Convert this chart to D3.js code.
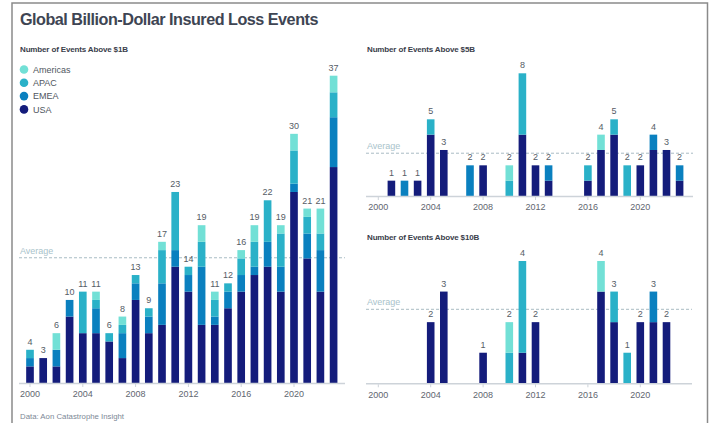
<!DOCTYPE html>
<html>
<head>
<meta charset="utf-8">
<script src="https://cdn.jsdelivr.net/npm/d3@7"></script>
<style>
  html, body { margin: 0; padding: 0; background: #fff; }
  svg { display: block; }
</style>
</head>
<body>
<div id="chart"></div>
<script>
// Years shown on every panel
const years = d3.range(2000, 2024);
const tickYears = [2000, 2004, 2008, 2012, 2016, 2020];
const regions = ['USA', 'EMEA', 'APAC', 'Americas'];
const legendOrder = ['Americas', 'APAC', 'EMEA', 'USA'];

// Events above $1B
const usa1  = [2,3,2,8,6,6,5,3,10,6,7,14,11,7,7,9,11,13,14,11,23,15,11,26];
const emea1 = [1,0,2,2,0,3,0,3,2,2,5,2,2,7,1,2,2,1,3,3,1,3,5,6];
const apac1 = [1,0,0,0,5,1,1,1,1,1,4,7,1,3,2,1,2,3,5,4,4,2,2,3];
const amer1 = [0,0,2,0,0,1,0,1,0,0,1,0,0,2,1,0,1,2,0,1,2,1,3,2];
const avg1 = 15.08;

// Events above $5B
const usa5  = [0,1,0,1,4,3,0,0,2,0,0,4,2,1,0,0,1,3,4,0,2,3,3,1];
const emea5 = [0,0,1,0,0,0,0,2,0,0,0,0,0,1,0,0,0,0,0,0,0,1,0,1];
const apac5 = [0,0,0,0,1,0,0,0,0,0,1,4,0,0,0,0,1,0,1,2,0,0,0,0];
const amer5 = [0,0,0,0,0,0,0,0,0,0,1,0,0,0,0,0,0,1,0,0,0,0,0,0];
const avg5 = 2.79;

// Events above $10B
const usa10  = [0,0,0,0,2,3,0,0,1,0,0,1,2,0,0,0,0,3,2,0,2,2,2,0];
const emea10 = [0,0,0,0,0,0,0,0,0,0,0,0,0,0,0,0,0,0,0,0,0,1,0,0];
const apac10 = [0,0,0,0,0,0,0,0,0,0,1,3,0,0,0,0,0,0,1,1,0,0,0,0];
const amer10 = [0,0,0,0,0,0,0,0,0,0,1,0,0,0,0,0,0,1,0,0,0,0,0,0];
const avg10 = 2.42;

const colors = {
  Americas: '#72e0d6',
  APAC: '#2ab1c8',
  EMEA: '#0a80bf',
  USA: '#141c7b'
};

const font = "'Liberation Sans', Arial, sans-serif";
const W = 717, H = 423;

const svg = d3.select('#chart').append('svg')
  .attr('width', W).attr('height', H)
  .style('font-family', font);

// frame
svg.append('path')
  .attr('d', `M12,${H} V3 H707.5 V${H}`)
  .attr('fill', 'none').attr('stroke', '#8a8a8a').attr('stroke-width', 1.5);

svg.append('text')
  .attr('x', 20).attr('y', 25)
  .attr('font-size', 16.2).attr('font-weight', 600)
  .attr('fill', '#3e4553')
  .attr('letter-spacing', -0.5)
  .text('Global Billion-Dollar Insured Loss Events');

svg.append('text')
  .attr('x', 20).attr('y', 419)
  .attr('font-size', 7.8).attr('fill', '#7d8896')
  .text('Data: Aon Catastrophe Insight');

function toRows(usa, emea, apac, amer) {
  return years.map((yr, i) => ({
    year: yr, USA: usa[i], EMEA: emea[i], APAC: apac[i], Americas: amer[i]
  }));
}

function drawPanel(opts) {
  const { rows, avg, title, titleY, xRange, lineX, yMax, yRange } = opts;
  const g = svg.append('g');

  const x = d3.scaleBand().domain(years).range(xRange).paddingInner(0.42).paddingOuter(0.21);
  const y = d3.scaleLinear().domain([0, yMax]).range(yRange);

  g.append('text')
    .attr('x', lineX[0] + 1).attr('y', titleY)
    .attr('font-size', 8).attr('font-weight', 700).attr('fill', '#3a404b')
    .attr('letter-spacing', -0.15)
    .text(title);

  // average line
  g.append('line')
    .attr('x1', lineX[0]).attr('x2', lineX[1])
    .attr('y1', y(avg)).attr('y2', y(avg))
    .attr('stroke', '#a9bcc4').attr('stroke-width', 1)
    .attr('stroke-dasharray', '3,2');
  g.append('text')
    .attr('x', lineX[0] + 1).attr('y', y(avg) - 4)
    .attr('font-size', 9).attr('fill', '#a8c3cb')
    .text('Average');

  const stacked = d3.stack().keys(regions)(rows);

  g.selectAll('.layer')
    .data(stacked)
    .join('g')
    .attr('fill', d => colors[d.key])
    .selectAll('rect')
    .data(d => d.filter(s => s[1] > s[0]))
    .join('rect')
    .attr('x', d => x(d.data.year))
    .attr('width', x.bandwidth())
    .attr('y', d => y(d[1]))
    .attr('height', d => y(d[0]) - y(d[1]));

  const totals = rows.map(r => ({ year: r.year, total: d3.sum(regions, k => r[k]) }))
    .filter(d => d.total > 0);
  g.selectAll('.total')
    .data(totals)
    .join('text')
    .attr('x', d => x(d.year) + x.bandwidth() / 2)
    .attr('y', d => y(d.total) - 5)
    .attr('text-anchor', 'middle')
    .attr('font-size', 9).attr('fill', '#555c66')
    .text(d => d.total);

  // baseline
  g.append('line')
    .attr('x1', lineX[0]).attr('x2', lineX[1])
    .attr('y1', y(0) + 0.5).attr('y2', y(0) + 0.5)
    .attr('stroke', '#cdd3d9').attr('stroke-width', 1.5);

  const xAxis = g.append('g')
    .attr('transform', `translate(0,${y(0) + 1})`)
    .call(d3.axisBottom(x).tickValues(tickYears).tickSize(3).tickPadding(4));
  xAxis.select('.domain').remove();
  xAxis.selectAll('line').attr('stroke', '#cdd3d9');
  xAxis.selectAll('text')
    .attr('font-size', 9).attr('fill', '#5f6670')
    .attr('font-family', font);
}

drawPanel({
  rows: toRows(usa1, emea1, apac1, amer1), avg: avg1,
  title: 'Number of Events Above $1B', titleY: 52,
  xRange: [23.4, 340.2], lineX: [19, 345],
  yMax: 37, yRange: [383, 75.7]
});

drawPanel({
  rows: toRows(usa5, emea5, apac5, amer5), avg: avg5,
  title: 'Number of Events Above $5B', titleY: 52,
  xRange: [371.75, 686.15], lineX: [366, 693],
  yMax: 8, yRange: [196, 73.3]
});

drawPanel({
  rows: toRows(usa10, emea10, apac10, amer10), avg: avg10,
  title: 'Number of Events Above $10B', titleY: 240,
  xRange: [371.75, 686.15], lineX: [366, 692],
  yMax: 4, yRange: [383.3, 261]
});

// legend
const legend = svg.append('g')
  .selectAll('g')
  .data(legendOrder)
  .join('g')
  .attr('transform', (d, i) => `translate(24,${69.5 + i * 13.3})`);
legend.append('circle').attr('r', 4.3).attr('fill', d => colors[d]);
legend.append('text')
  .attr('x', 9).attr('y', 3.2)
  .attr('font-size', 9).attr('fill', '#4f5660')
  .text(d => d);
</script>
</body>
</html>
